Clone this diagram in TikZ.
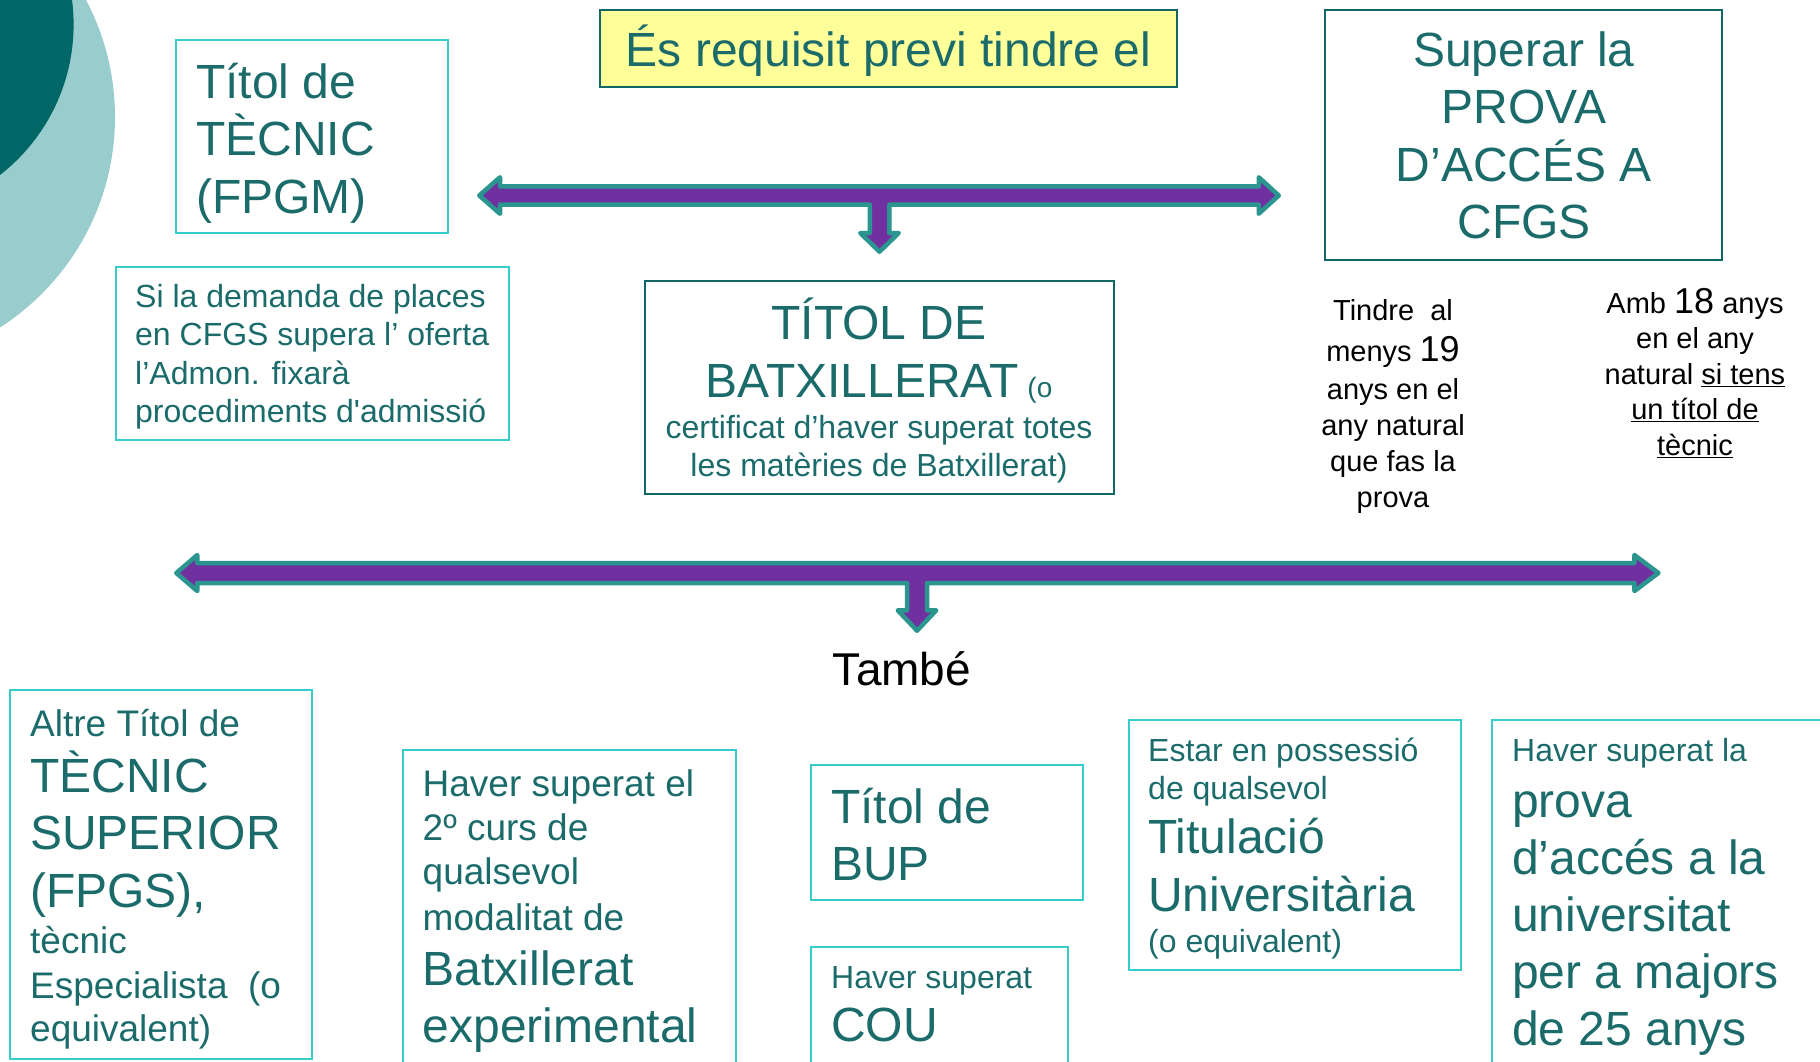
\documentclass[tikz,border=0pt]{standalone}
\usepackage{fontspec}
\setmainfont{Liberation Sans}
\usetikzlibrary{fit}
\definecolor{tealtxt}{HTML}{1B6B6B}
\definecolor{darkline}{HTML}{116666}
\definecolor{cyanline}{HTML}{36CCCC}
\definecolor{pale}{HTML}{FFFF99}
\definecolor{violet}{HTML}{7030A0}
\definecolor{arrowrim}{HTML}{2A968F}
\definecolor{circdark}{HTML}{006666}
\definecolor{circlight}{HTML}{99CCCC}
\newcommand*{\gran}[1]{{\fontsize{48}{57.5}\selectfont #1}}
\newcommand*{\petit}[1]{{\fontsize{32}{38}\selectfont #1}}
\newcommand*{\xic}[1]{{\fontsize{28}{34}\selectfont #1}}
\newcommand*{\fila}[1]{\rule{0pt}{#1pt}}

\begin{document}
\begin{tikzpicture}[x=1pt,y=-1pt,
      cbox/.style={draw=cyanline,line width=2pt,inner sep=0pt},
      dbox/.style={draw=darkline,line width=2pt,inner sep=0pt},
      sz/.style 2 args={font={\fontsize{#1}{#2}\selectfont\lineskiplimit=-100pt}},
      txt/.style={text=tealtxt,inner sep=0pt,anchor=north west,align=left},
      ctxt/.style={txt,anchor=north,align=center},
      tarrow/.style={fill=violet,draw=arrowrim,line width=4.5pt,line join=round}]
  \useasboundingbox (0,0) rectangle (1820,1061);
  \clip (0,0) rectangle (1820,1061);
  \fill[circlight] (-135,117) circle[radius=250pt];
  \fill[circdark] (-117,24.5) circle[radius=190.6pt];

  \node[dbox, fill=pale, fit={(600,10) (1177,87)}] (req) {};
  \node[text=tealtxt, inner sep=0pt, anchor=base, font=\fontsize{48}{57.5}\selectfont] (reqtxt) at (888.5,66) {És requisit previ tindre el};

  \node[cbox, fit={(176,40) (448,233)}] (fpgm) {};
  \node[txt, sz={48}{57.5}] (fpgmtxt) at (196,52) {\fila{46}Títol de\\TÈCNIC\\(FPGM)};

  \node[cbox, fit={(116,267) (509,440)}] (dem) {};
  \node[txt, sz={32}{38.1}] (demtxt) at (135,276.6) {\fila{31}Si la demanda de places\\en CFGS supera l’ oferta\\l’Admon. fixarà\\procediments d\textquotesingle admissió};

  \node[dbox, fit={(645,281) (1114,494)}] (batx) {};
  \node[ctxt, sz={32}{37.5}] (batxtxt) at (879,293) {\fila{46}\gran{TÍTOL DE}\\[20.5pt]\gran{BATXILLERAT} \xic{(o}\\[4pt]certificat d’haver superat totes\\les matèries de Batxillerat)};

  \node[dbox, fit={(1325,10) (1722,260)}] (prova) {};
  \node[ctxt, sz={48}{57.5}] (provatxt) at (1524,20) {\fila{46}Superar la\\PROVA\\D’ACCÉS A\\CFGS};

  \node[ctxt, text=black, sz={29}{36}] (edat19) at (1393,292) {\fila{28}Tindre~ al\\[5pt]menys {\fontsize{36}{36}\selectfont 19}\\[2pt]anys en el\\any natural\\que fas la\\prova};
  \node[ctxt, text=black, sz={29}{35.5}] (edat18) at (1695,278) {\fila{35}Amb {\fontsize{36}{36}\selectfont 18} anys\\en el any\\natural \underline{si tens}\\\underline{un títol de}\\\underline{tècnic}};

  \draw[tarrow] (479.3,195.5) -- (500,177.25) -- (500,186.4) -- (1258.75,186.4) -- (1258.75,177.25)
    -- (1278.75,195.5) -- (1258.75,213.75) -- (1258.75,204.6) -- (889.25,204.6) -- (889.25,233)
    -- (898.75,233) -- (879.5,251.7) -- (860.25,233) -- (869.75,233) -- (869.75,204.6)
    -- (500,204.6) -- (500,213.75) -- cycle;
  \draw[tarrow] (176.3,573) -- (197.3,555) -- (197.3,563) -- (1634.4,563) -- (1634.4,555)
    -- (1658.4,573) -- (1634.4,591) -- (1634.4,583) -- (927,583) -- (927,610.3)
    -- (936.25,610.3) -- (917,630.7) -- (897.75,610.3) -- (907,610.3) -- (907,583)
    -- (197.3,583) -- (197.3,591) -- cycle;

  \node[inner sep=0pt, anchor=base, font=\fontsize{46}{50}\selectfont] (tambe) at (902,685.5) {També};

  \node[cbox, fit={(10,690) (312,1059)}] (altre) {};
  \node[txt, sz={37}{44.5}] (altretxt) at (30,701) {\fila{35}Altre Títol de\\[11.5pt]\gran{TÈCNIC}\\[13pt]\gran{SUPERIOR}\\[13pt]\gran{(FPGS),}\\[1.5pt]tècnic\\[1pt]Especialista~ (o\\[-1.5pt]equivalent)};

  \node[cbox, fit={(403,750) (736,1075)}] (batxexp) {};
  \node[txt, sz={37}{44}] (batxexptxt) at (422.5,761.5) {\fila{35}Haver superat el\\2º curs de\\qualsevol\\[1.5pt]modalitat de\\[11pt]\gran{Batxillerat}\\[13pt]\gran{experimental}};

  \node[cbox, fit={(811,765) (1083,900)}] (bup) {};
  \node[txt, sz={48}{57}] (buptxt) at (831,777) {\fila{46}Títol de\\BUP};

  \node[cbox, fit={(811,946.5) (1068,1075)}] (cou) {};
  \node[txt, sz={32}{53}] (coutxt) at (831,957) {\fila{31}Haver superat\\\gran{COU}};

  \node[cbox, fit={(1129,720) (1461,970)}] (univ) {};
  \node[txt, sz={32}{38}] (univtxt) at (1148,730.5) {\fila{31}Estar en possessió\\de qualsevol\\[16pt]\gran{Titulació}\\[20pt]\gran{Universitària}\\[3pt](o equivalent)};

  \node[cbox, fit={(1491.5,720) (1840,1075)}] (maj25) {};
  \node[txt, sz={48}{57}] (maj25txt) at (1512,730.5) {\fila{31}\petit{Haver superat la}\\[-1.5pt]prova\\d’accés a la\\universitat\\per a majors\\de 25 anys};
\end{tikzpicture}
\end{document}
